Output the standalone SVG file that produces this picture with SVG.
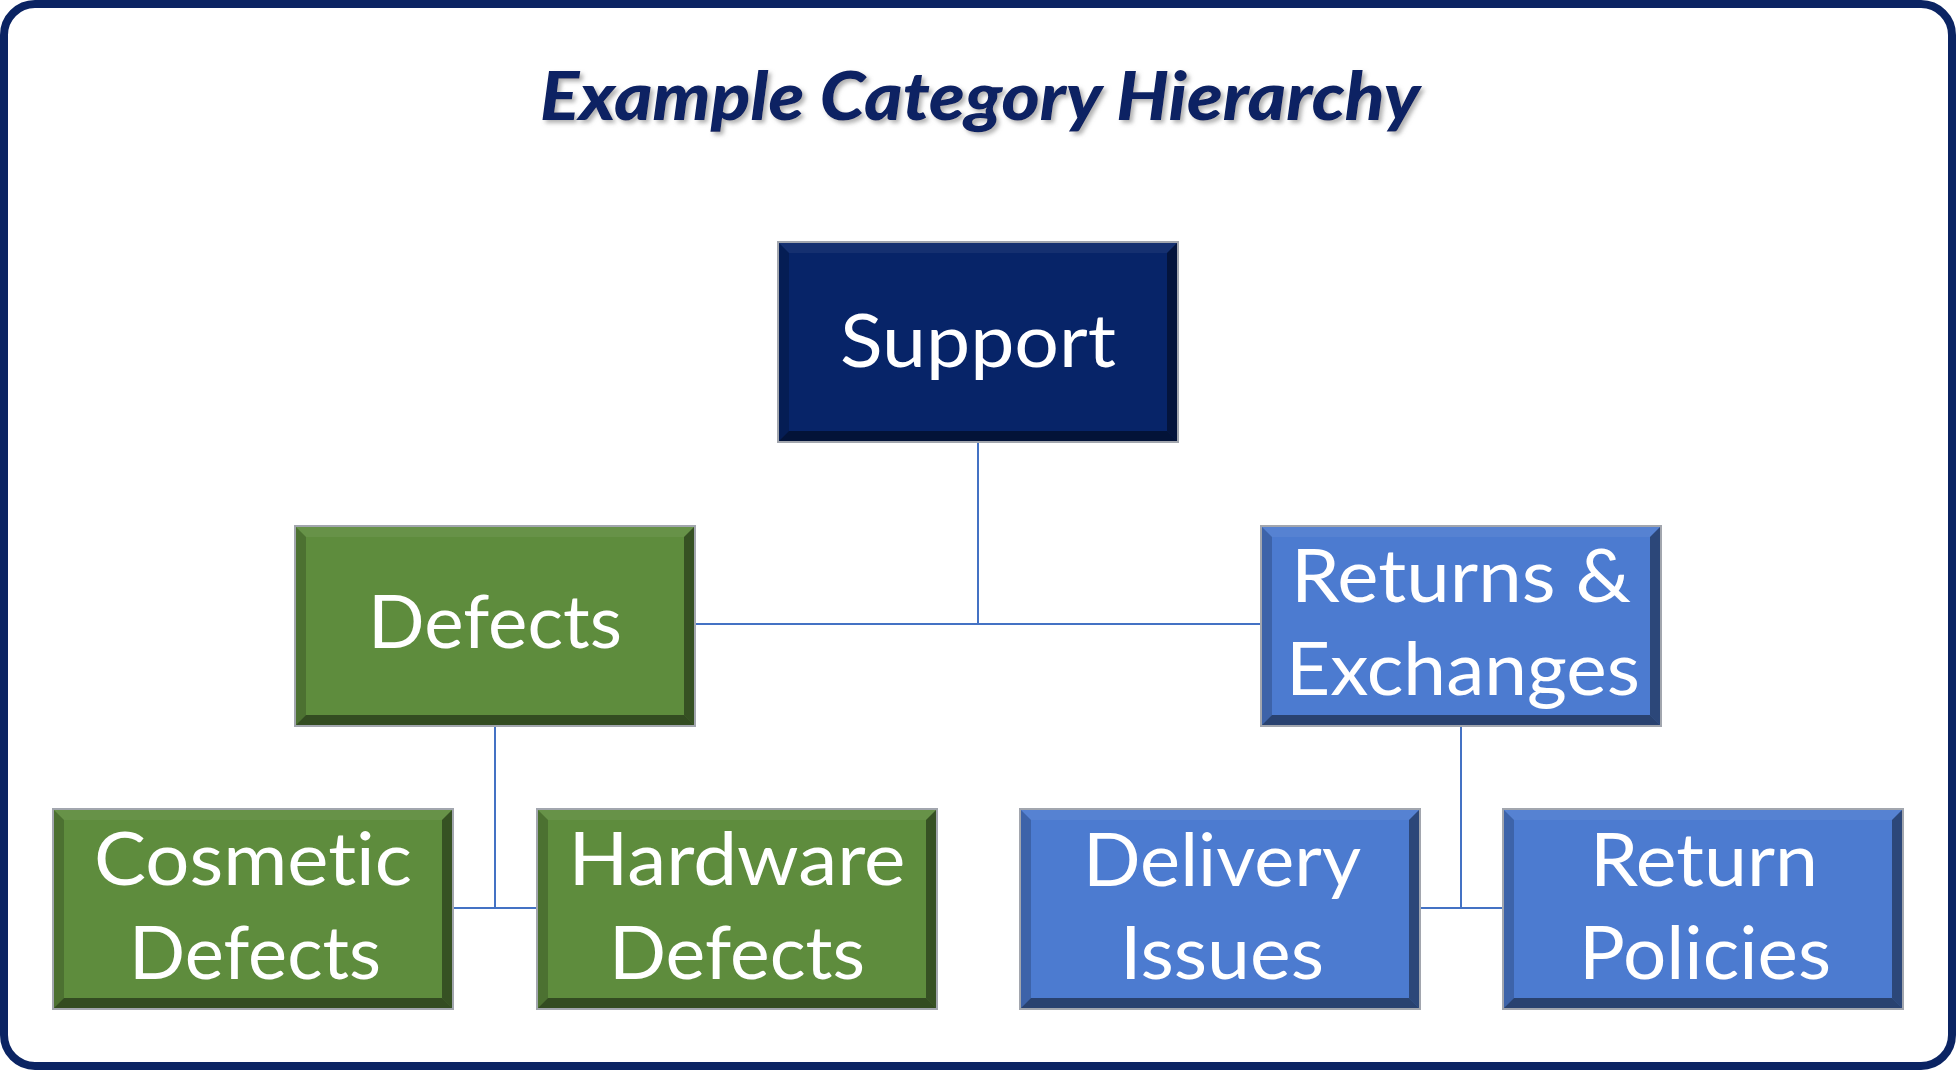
<svg xmlns="http://www.w3.org/2000/svg" xmlns:xlink="http://www.w3.org/1999/xlink" width="1956" height="1070" viewBox="0 0 1956 1070">
  <style>
    .frame { fill: #ffffff; stroke: #0B2463; stroke-width: 8; }
    .title { font-family: Lato, "Open Sans", "Liberation Sans", sans-serif; font-weight: 900; font-style: italic; font-size: 67px; fill: #0B2263; font-variant-ligatures: none; }
    .lbl { font-family: Lato, "Open Sans", "Liberation Sans", sans-serif; font-size: 74px; fill: #ffffff; text-anchor: middle; font-variant-ligatures: none; }
    .navy { fill: #072468; }
    .green { fill: #5E8C3D; }
    .blue { fill: #4C7BD0; }
    .outline { fill: none; stroke: #A2A6AE; stroke-width: 2; }
    .conn line { stroke: #4472C4; stroke-width: 2; fill: none; }
  </style>
  <defs>
    <filter id="shadow" x="-5%" y="-20%" width="110%" height="150%">
      <feDropShadow dx="3" dy="3" stdDeviation="2" flood-color="#7F7F7F" flood-opacity="0.6"/>
    </filter>
    <g id="bevel">
      <polygon points="0,0 400,0 389,11 11,11" fill="#ffffff" fill-opacity="0.06"/>
      <polygon points="0,0 11,11 11,189 0,200" fill="#000000" fill-opacity="0.19"/>
      <polygon points="400,0 400,200 389,189 389,11" fill="#000000" fill-opacity="0.42"/>
      <polygon points="0,200 11,189 389,189 400,200" fill="#000000" fill-opacity="0.46"/>
      <rect x="0" y="0" width="400" height="200" class="outline"/>
    </g>
  </defs>

  <rect x="4" y="4" width="1948" height="1062" rx="31" ry="31" class="frame"/>

  <text x="980" y="120" class="title" text-anchor="middle" textLength="880" lengthAdjust="spacingAndGlyphs" filter="url(#shadow)">Example Category Hierarchy</text>

  <g id="connectors" class="conn">
    <line x1="978" y1="442" x2="978" y2="624"/>
    <line x1="695" y1="624" x2="1261" y2="624"/>
    <line x1="495" y1="726" x2="495" y2="908"/>
    <line x1="453" y1="908" x2="537" y2="908"/>
    <line x1="1461" y1="726" x2="1461" y2="908"/>
    <line x1="1420" y1="908" x2="1503" y2="908"/>
  </g>

  <g id="node-support">
    <rect x="778" y="242" width="400" height="200" class="navy"/>
    <use xlink:href="#bevel" x="778" y="242"/>
    <text x="978" y="367" class="lbl" textLength="276" lengthAdjust="spacingAndGlyphs">Support</text>
  </g>

  <g id="node-defects">
    <rect x="295" y="526" width="400" height="200" class="green"/>
    <use xlink:href="#bevel" x="295" y="526"/>
    <text x="495" y="648" class="lbl" textLength="254" lengthAdjust="spacingAndGlyphs">Defects</text>
  </g>

  <g id="node-returns-exchanges">
    <rect x="1261" y="526" width="400" height="200" class="blue"/>
    <use xlink:href="#bevel" x="1261" y="526"/>
    <text x="1461" y="602" class="lbl" textLength="340" lengthAdjust="spacingAndGlyphs">Returns &amp;</text>
    <text x="1463" y="695" class="lbl" textLength="354" lengthAdjust="spacingAndGlyphs">Exchanges</text>
  </g>

  <g id="node-cosmetic-defects">
    <rect x="53" y="809" width="400" height="200" class="green"/>
    <use xlink:href="#bevel" x="53" y="809"/>
    <text x="253" y="885" class="lbl" textLength="318" lengthAdjust="spacingAndGlyphs">Cosmetic</text>
    <text x="255" y="979" class="lbl" textLength="252" lengthAdjust="spacingAndGlyphs">Defects</text>
  </g>

  <g id="node-hardware-defects">
    <rect x="537" y="809" width="400" height="200" class="green"/>
    <use xlink:href="#bevel" x="537" y="809"/>
    <text x="737" y="885" class="lbl" textLength="337" lengthAdjust="spacingAndGlyphs">Hardware</text>
    <text x="737" y="979" class="lbl" textLength="256" lengthAdjust="spacingAndGlyphs">Defects</text>
  </g>

  <g id="node-delivery-issues">
    <rect x="1020" y="809" width="400" height="200" class="blue"/>
    <use xlink:href="#bevel" x="1020" y="809"/>
    <text x="1222" y="886" class="lbl" textLength="278" lengthAdjust="spacingAndGlyphs">Delivery</text>
    <text x="1222" y="979" class="lbl" textLength="204" lengthAdjust="spacingAndGlyphs">Issues</text>
  </g>

  <g id="node-return-policies">
    <rect x="1503" y="809" width="400" height="200" class="blue"/>
    <use xlink:href="#bevel" x="1503" y="809"/>
    <text x="1704" y="886" class="lbl" textLength="228" lengthAdjust="spacingAndGlyphs">Return</text>
    <text x="1705" y="979" class="lbl" textLength="252" lengthAdjust="spacingAndGlyphs">Policies</text>
  </g>
</svg>
